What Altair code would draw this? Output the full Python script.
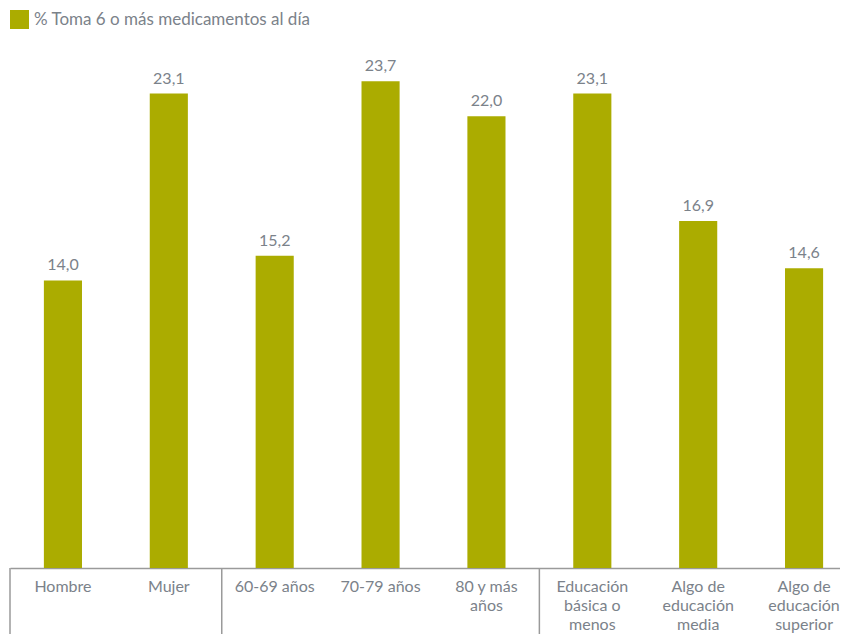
import altair as alt
import pandas as pd

categories = [
    "Hombre",
    "Mujer",
    "60-69 años",
    "70-79 años",
    "80 y más\naños",
    "Educación\nbásica o\nmenos",
    "Algo de\neducación\nmedia",
    "Algo de\neducación\nsuperior",
]
values = [14.0, 23.1, 15.2, 23.7, 22.0, 23.1, 16.9, 14.6]
series_name = "% Toma 6 o más medicamentos al día"
group_starts = ["Hombre", "60-69 años", "Educación\nbásica o\nmenos"]

BAR = "#abac00"
TXT = "#7b828a"
LINE = "#9a9a9a"
FONT = "Lato"

W, H = 830, 534

df = pd.DataFrame({"cat": categories, "value": values, "serie": series_name})
div_df = pd.DataFrame({"cat": group_starts})

xscale = alt.Scale(domain=categories, paddingInner=0, paddingOuter=0, range=[0, 847])
x_axis = alt.Axis(
    title=None, labelAngle=0, ticks=False, tickSize=0, grid=False,
    domainColor=LINE, domainWidth=1.5,
    labelFont=FONT, labelFontSize=16, labelColor=TXT, labelPadding=10,
    labelLineHeight=19.2, labelBaseline="top",
    labelExpr="split(datum.value, '\\n')",
)
yscale = alt.Scale(domain=[0, 26])

bars = alt.Chart(df).mark_bar(width=alt.RelativeBandSize(0.36), color=BAR).encode(
    x=alt.X("cat:N", scale=xscale, axis=x_axis, sort=categories),
    y=alt.Y("value:Q", scale=yscale, axis=None),
    color=alt.Color(
        "serie:N",
        scale=alt.Scale(domain=[series_name], range=[BAR]),
        legend=alt.Legend(
            title=None, orient="none", legendX=0, legendY=-24, padding=0,
            symbolType="square", symbolSize=361, symbolStrokeWidth=0,
            symbolFillColor=BAR, labelFont=FONT, labelFontSize=17,
            labelColor=TXT, labelOffset=5, labelLimit=500,
        ),
    ),
)

labels = alt.Chart(df).transform_calculate(
    lab="replace(format(datum.value, '.1f'), '.', ',')"
).mark_text(
    font=FONT, fontSize=16, color=TXT, baseline="bottom", dy=-7
).encode(
    x=alt.X("cat:N", scale=xscale, sort=categories),
    y=alt.Y("value:Q", scale=yscale),
    text="lab:N",
)

dividers = alt.Chart(div_df).mark_rule(color=LINE, strokeWidth=1.5).encode(
    x=alt.X("cat:N", scale=xscale, bandPosition=0, sort=categories),
    y=alt.value(H),
    y2=alt.value(H + 80),
)

chart = alt.layer(bars, labels, dividers).properties(
    width=W, height=H,
    autosize=alt.AutoSizeParams(type="none"),
    padding={"left": 2, "top": 26, "right": 0, "bottom": 66},
).configure_view(stroke=None)

chart.save("out.html", embed_options={"renderer": "svg", "actions": False})
